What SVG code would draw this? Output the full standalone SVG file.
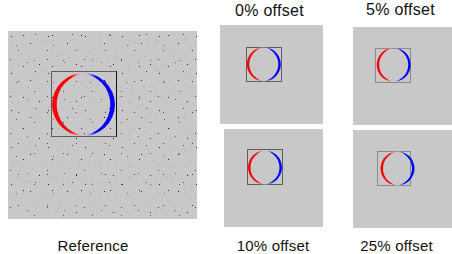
<svg xmlns="http://www.w3.org/2000/svg" width="452" height="254" viewBox="0 0 452 254">
<style>
  .bg { fill: #c8c8c8; }
  .box { fill: none; stroke: #5e5e5e; stroke-width: 1; }
  .boxlight { fill: none; stroke: #8a8a8a; stroke-width: 1; }
  .edge { stroke: #111; stroke-width: 1; }
  .lbl { font-family: "Liberation Sans", Arial, Helvetica, sans-serif; fill: #111; text-anchor: middle; }
  .top { font-size: 16px; letter-spacing: 0.3px; }
  .bot { font-size: 15px; letter-spacing: 0.2px; }
</style>
<defs>
  <linearGradient id="gRed" x1="0" y1="0" x2="1" y2="0">
    <stop offset="0" stop-color="#ff0000"/>
    <stop offset="0.55" stop-color="#ff0000"/>
    <stop offset="0.82" stop-color="#eab0b0"/>
    <stop offset="1" stop-color="#d4c4c4"/>
  </linearGradient>
  <linearGradient id="gBlue" x1="0" y1="0" x2="1" y2="0">
    <stop offset="0" stop-color="#c4c4d4"/>
    <stop offset="0.18" stop-color="#b0b0ea"/>
    <stop offset="0.45" stop-color="#0000ff"/>
    <stop offset="1" stop-color="#0000ff"/>
  </linearGradient>
  <g id="crescents">
    <path d="M1.25,-16.954 A17,17 0 1 0 1.25,16.954 A17,17 0 0 1 1.25,-16.954 Z" fill="url(#gRed)"/>
    <path d="M-1.25,-16.954 A17,17 0 1 1 -1.25,16.954 A17,17 0 0 0 -1.25,-16.954 Z" fill="url(#gBlue)"/>
  </g>
  <pattern id="nA" patternUnits="userSpaceOnUse" x="8" y="31" width="37" height="37">
    <rect x="3" y="5" width="1" height="1" fill="#1a1a6e"/>
    <rect x="17" y="2" width="1" height="1" fill="#e0a8a8"/>
    <rect x="29" y="8" width="1" height="1" fill="#a8a8e0"/>
    <rect x="8" y="14" width="1" height="1" fill="#d04040"/>
    <rect x="22" y="12" width="1" height="1" fill="#1a1a6e"/>
    <rect x="34" y="19" width="1" height="1" fill="#e0a8a8"/>
    <rect x="13" y="23" width="1" height="1" fill="#a8a8e0"/>
    <rect x="2" y="28" width="1" height="1" fill="#8a2a2a"/>
    <rect x="25" y="26" width="1" height="1" fill="#e0a8a8"/>
    <rect x="31" y="33" width="1" height="1" fill="#1a1a6e"/>
    <rect x="10" y="34" width="1" height="1" fill="#a8a8e0"/>
    <rect x="19" y="31" width="1" height="1" fill="#d04040"/>
    <rect x="6" y="20" width="1" height="1" fill="#e0a8a8"/>
    <rect x="27" y="3" width="1" height="1" fill="#8a2a2a"/>
  </pattern>
  <pattern id="nB" patternUnits="userSpaceOnUse" x="8" y="31" width="29" height="31">
    <rect x="4" y="9" width="1" height="1" fill="#a8a8e0"/>
    <rect x="15" y="4" width="1" height="1" fill="#1a1a6e"/>
    <rect x="24" y="14" width="1" height="1" fill="#e0a8a8"/>
    <rect x="10" y="19" width="1" height="1" fill="#8a2a2a"/>
    <rect x="20" y="25" width="1" height="1" fill="#a8a8e0"/>
    <rect x="2" y="26" width="1" height="1" fill="#e0a8a8"/>
    <rect x="26" y="29" width="1" height="1" fill="#4848c8"/>
    <rect x="13" y="12" width="1" height="1" fill="#e0a8a8"/>
  </pattern>
  <pattern id="nC" patternUnits="userSpaceOnUse" x="8" y="31" width="23" height="19">
    <rect x="5" y="3" width="1" height="1" fill="#dcb4b4"/>
    <rect x="16" y="8" width="1" height="1" fill="#b8b8dc"/>
    <rect x="9" y="15" width="1" height="1" fill="#dcb4b4"/>
    <rect x="20" y="17" width="1" height="1" fill="#b8b8dc"/>
  </pattern>
</defs>
<rect width="452" height="254" fill="#ffffff"/>

<g id="reference">
  <rect class="bg" x="8" y="31" width="189" height="188"/>
  <rect x="8" y="31" width="189" height="188" fill="url(#nC)"/>
  <rect x="8" y="31" width="189" height="188" fill="url(#nA)"/>
  <rect x="8" y="31" width="189" height="188" fill="url(#nB)"/>
  <rect class="box" x="51.5" y="71.5" width="65" height="65"/>
  <line class="edge" x1="116.5" y1="71" x2="116.5" y2="137"/>
  <use href="#crescents" transform="translate(83.5,104.5) scale(1.85)"/>
  <text class="lbl bot" x="93" y="251">Reference</text>
</g>

<g id="offset-0">
  <rect class="bg" x="220" y="25" width="103" height="99"/>
  <rect class="box" x="246.5" y="47.5" width="35" height="34"/>
  <use href="#crescents" transform="translate(263.8,64.2)"/>
  <text class="lbl top" x="269.5" y="16">0% offset</text>
</g>

<g id="offset-5">
  <rect class="bg" x="353" y="27" width="99" height="98"/>
  <rect class="boxlight" x="375.5" y="48.5" width="35" height="34"/>
  <use href="#crescents" transform="translate(393.7,64.8)"/>
  <text class="lbl top" x="400.5" y="15">5% offset</text>
</g>

<g id="offset-10">
  <rect class="bg" x="224" y="129" width="99" height="98"/>
  <rect class="box" x="247.5" y="149.5" width="35" height="35"/>
  <use href="#crescents" transform="translate(265,167.5)"/>
  <text class="lbl bot" x="273" y="251">10% offset</text>
</g>

<g id="offset-25">
  <rect class="bg" x="353" y="130" width="99" height="98"/>
  <rect class="boxlight" x="377.5" y="151.5" width="33" height="34"/>
  <use href="#crescents" transform="translate(397.5,168.5)"/>
  <text class="lbl bot" x="396.5" y="251">25% offset</text>
</g>
</svg>
